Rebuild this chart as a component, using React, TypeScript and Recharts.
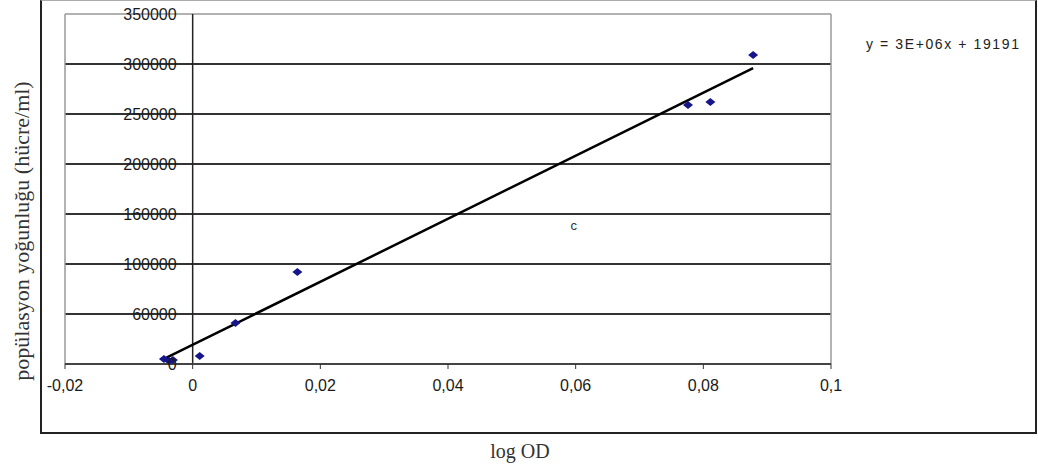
import {
  ScatterChart,
  Scatter,
  XAxis,
  YAxis,
  ZAxis,
  ReferenceLine,
  ReferenceDot,
} from 'recharts'

const xTicks = [-0.02, 0, 0.02, 0.04, 0.06, 0.08, 0.1]
const xTickLabels = ['-0,02', '0', '0,02', '0,04', '0,06', '0,08', '0,1']
const yTicks = [0, 50000, 100000, 150000, 200000, 250000, 300000, 350000]
const yTickLabels = ['0', '60000', '100000', '160000', '200000', '250000', '300000', '350000']

// measured points (log OD vs. population density)
const logOD = [-0.0045, -0.0037, -0.0031, 0.0011, 0.0067, 0.0164, 0.0776, 0.0811, 0.0878]
const density = [5000, 3000, 4000, 8000, 41000, 92000, 259000, 262000, 309000]

// linear trendline ends
const trendX = [-0.0041, 0.0878]
const trendY = [6300, 295800]

const equation = 'y = 3E+06x + 19191'
const note = { x: 0.0597, y: 139000, text: 'c' }

const points = logOD.map((x, i) => ({ x, y: density[i] }))
const trend = trendX.map((x, i) => ({ x, y: trendY[i] }))

const sans = '"Liberation Sans", Arial, sans-serif'
const serif = '"Liberation Serif", "Times New Roman", serif'

const Diamond = (props: any) => {
  const { cx, cy } = props
  if (cx == null || cy == null) return <g />
  return (
    <polygon
      points={`${cx - 5},${cy} ${cx},${cy - 4} ${cx + 5},${cy} ${cx},${cy + 4}`}
      fill="#16168a"
    />
  )
}

const NoDot = () => <g />

export default function App() {
  return (
    <div style={{ position: 'absolute', left: 0, top: 0, width: 1038, height: 470, background: '#fff' }}>
      <div
        style={{
          position: 'absolute',
          left: 40,
          top: 0,
          width: 993,
          height: 431,
          borderLeft: '2px solid #222',
          borderRight: '2px solid #222',
          borderBottom: '2px solid #222',
          borderTop: '1px solid #aaa',
        }}
      />
      <div style={{ position: 'absolute', left: 0, top: 0 }}>
        <ScatterChart width={1038} height={470} margin={{ top: 14, right: 207, bottom: 76, left: 65 }}>
          <XAxis
            type="number"
            dataKey="x"
            domain={[-0.02, 0.1]}
            ticks={xTicks}
            height={30}
            tickSize={5}
            tickMargin={11}
            axisLine={{ stroke: '#444', strokeWidth: 2 }}
            tickLine={{ stroke: '#333' }}
            tick={{ fill: '#1a1a1a', fontSize: 16, fontFamily: sans }}
            tickFormatter={(v: number) => xTickLabels[xTicks.indexOf(v)] ?? String(v)}
          />
          <YAxis type="number" dataKey="y" domain={[0, 350000]} ticks={yTicks} hide />
          <ZAxis range={[60, 60]} />
          {yTicks.slice(1).map((t) => (
            <ReferenceLine
              key={`g-${t}`}
              y={t}
              stroke={t === 350000 ? '#999' : '#333'}
              strokeWidth={t === 350000 ? 1.5 : 2}
            />
          ))}
          <ReferenceLine x={-0.02} stroke="#999" strokeWidth={1.5} />
          <ReferenceLine x={0.1} stroke="#999" strokeWidth={1.5} />
          <ReferenceLine x={0} stroke="#222" strokeWidth={1.5} />
          {yTicks.map((t, i) => (
            <ReferenceDot
              key={`yl-${t}`}
              x={0}
              y={t}
              r={0}
              fill="none"
              stroke="none"
              label={{
                value: yTickLabels[i],
                position: 'left',
                offset: 16,
                fill: '#1a1a1a',
                fontSize: 16,
                fontFamily: sans,
              }}
            />
          ))}
          <ReferenceDot
            x={note.x}
            y={note.y}
            r={0}
            fill="none"
            stroke="none"
            label={{ value: note.text, position: 'center', fill: '#333', fontSize: 13, fontFamily: sans }}
          />
          <Scatter
            data={trend}
            line={{ stroke: '#000', strokeWidth: 2.5 }}
            shape={NoDot}
            isAnimationActive={false}
          />
          <Scatter data={points} shape={Diamond} isAnimationActive={false} />
        </ScatterChart>
      </div>
      <div
        style={{
          position: 'absolute',
          left: 866,
          top: 36,
          fontFamily: sans,
          fontSize: 14,
          letterSpacing: 1.6,
          color: '#222',
          whiteSpace: 'nowrap',
        }}
      >
        {equation}
      </div>
      <div
        style={{
          position: 'absolute',
          left: 470,
          top: 440,
          width: 100,
          textAlign: 'center',
          fontFamily: serif,
          fontSize: 20,
          color: '#333',
        }}
      >
        log OD
      </div>
      <div
        style={{
          position: 'absolute',
          left: 22 - 170,
          top: 231 - 13,
          width: 340,
          textAlign: 'center',
          transform: 'rotate(-90deg)',
          fontFamily: serif,
          fontSize: 22,
          lineHeight: '26px',
          color: '#333',
          whiteSpace: 'nowrap',
        }}
      >
        popülasyon yoğunluğu (hücre/ml)
      </div>
    </div>
  )
}
